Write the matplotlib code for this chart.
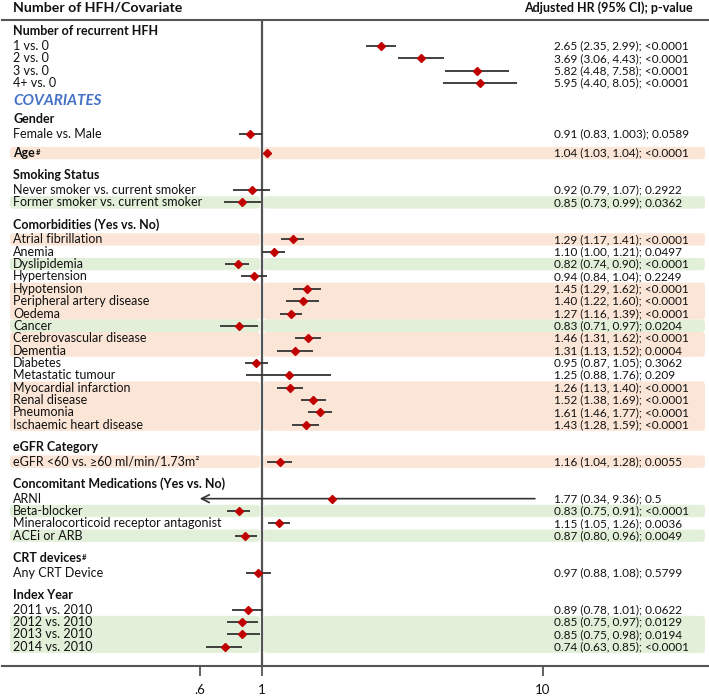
import matplotlib.pyplot as plt
import matplotlib.transforms as mtransforms
from matplotlib.patches import FancyBboxPatch
from matplotlib.ticker import NullLocator

plt.rcParams['font.family'] = ['Lato', 'DejaVu Sans']

# groups of rows (None = the row itself is the bold heading)
group_names = ["Number of recurrent HFH", "Gender", None, "Smoking Status",
               "Comorbidities (Yes vs. No)", "eGFR Category",
               "Concomitant Medications (Yes vs. No)", "CRT devices#", "Index Year"]
group_sizes = [4, 1, 1, 2, 16, 1, 4, 1, 4]

row_labels = ["1 vs. 0", "2 vs. 0", "3 vs. 0", "4+ vs. 0",
              "Female vs. Male",
              "Age#",
              "Never smoker vs. current smoker", "Former smoker vs. current smoker",
              "Atrial fibrillation", "Anemia", "Dyslipidemia", "Hypertension",
              "Hypotension", "Peripheral artery disease", "Oedema", "Cancer",
              "Cerebrovascular disease", "Dementia", "Diabetes", "Metastatic tumour",
              "Myocardial infarction", "Renal disease", "Pneumonia",
              "Ischaemic heart disease",
              "eGFR <60 vs. \u226560 ml/min/1.73m\u00b2",
              "ARNI", "Beta-blocker", "Mineralocorticoid receptor antagonist",
              "ACEi or ARB",
              "Any CRT Device",
              "2011 vs. 2010", "2012 vs. 2010", "2013 vs. 2010", "2014 vs. 2010"]

hr = [2.65, 3.69, 5.82, 5.95,
      0.91,
      1.04,
      0.92, 0.85,
      1.29, 1.10, 0.82, 0.94, 1.45, 1.40, 1.27, 0.83, 1.46, 1.31, 0.95, 1.25,
      1.26, 1.52, 1.61, 1.43,
      1.16,
      1.77, 0.83, 1.15, 0.87,
      0.97,
      0.89, 0.85, 0.85, 0.74]
ci_low = [2.35, 3.06, 4.48, 4.40,
          0.83,
          1.03,
          0.79, 0.73,
          1.17, 1.00, 0.74, 0.84, 1.29, 1.22, 1.16, 0.71, 1.31, 1.13, 0.87, 0.88,
          1.13, 1.38, 1.46, 1.28,
          1.04,
          0.34, 0.75, 1.05, 0.80,
          0.88,
          0.78, 0.75, 0.75, 0.63]
ci_high = [2.99, 4.43, 7.58, 8.05,
           1.003,
           1.04,
           1.07, 0.99,
           1.41, 1.21, 0.90, 1.04, 1.62, 1.60, 1.39, 0.97, 1.62, 1.52, 1.05, 1.76,
           1.40, 1.69, 1.77, 1.59,
           1.28,
           9.36, 0.91, 1.26, 0.96,
           1.08,
           1.01, 0.97, 0.98, 0.85]
p_values = ["<0.0001", "<0.0001", "<0.0001", "<0.0001",
            "0.0589",
            "<0.0001",
            "0.2922", "0.0362",
            "<0.0001", "0.0497", "<0.0001", "0.2249", "<0.0001", "<0.0001",
            "<0.0001", "0.0204", "<0.0001", "0.0004", "0.3062", "0.209",
            "<0.0001", "<0.0001", "<0.0001", "<0.0001",
            "0.0055",
            "0.5", "<0.0001", "0.0036", "0.0049",
            "0.5799",
            "0.0622", "0.0129", "0.0194", "<0.0001"]
# shading: "up" = higher risk, "down" = lower risk, "" = none
shading = ["", "", "", "",
           "",
           "up",
           "", "down",
           "up", "", "down", "", "up", "up", "up", "down", "up", "up", "", "",
           "up", "up", "up", "up",
           "up",
           "", "down", "", "down",
           "",
           "", "down", "down", "down"]

ticks = [0.6, 1, 10]
tick_labels = [".6", "1", "10"]

W, H = 709, 696
SHADE = {"up": "#fbe5d6", "down": "#e2f0d9"}
TXT = "#111111"
FS = 9


def fmt(v):
    s = f"{v:.3f}".rstrip("0")
    return s + "0" * (2 - len(s.split(".")[1]))


fig = plt.figure(figsize=(W / 100, H / 100), dpi=100)
ax = fig.add_axes([2 / W, (H - 666) / H, (W - 2) / W, (666 - 20) / H])
ax.set_xscale("log")
ax.set_xlim(10 ** ((2 - 262) / 281), 10 ** ((W - 262) / 281))
ax.set_ylim(666, 20)

tr = ax.get_yaxis_transform()
pix = mtransforms.Affine2D().scale(1, -1).translate(0, H)


def fx(px):
    return (px - 2) / (W - 2)


def label(y, s, **kw):
    sup = s.endswith("#")
    t = ax.text(fx(13), y, s.rstrip("#"), transform=tr, va="center",
                color=TXT, clip_on=False, **kw)
    if sup:
        ax.annotate("#", xy=(1, 1), xycoords=t, xytext=(0.5, -1.5),
                    textcoords="offset points", ha="left", va="top",
                    fontsize=5.5, fontweight="bold", color=TXT)


# vertical layout
ys = []
y = 31
row = 0
for gi, (name, n) in enumerate(zip(group_names, group_sizes)):
    if gi == 1:
        y += 18
        ax.text(fx(13), y, "COVARIATES", transform=tr, va="center",
                fontsize=11, fontweight="bold", style="italic", color="#4472c4")
        y += 18
    elif gi > 0:
        y += 19 if name is None else 22
    if name is None:
        ys.append(y)
        label(y, row_labels[row], fontsize=FS, fontweight="bold")
        row += 1
        continue
    label(y, name, fontsize=FS, fontweight="bold")
    for k in range(n):
        y += 15 if k == 0 else 12.35
        ys.append(y)
        label(y, row_labels[row], fontsize=FS)
        row += 1

# highlight bands, consecutive rows of the same kind merged
i = 0
while i < len(hr):
    if not shading[i]:
        i += 1
        continue
    j = i
    while j + 1 < len(hr) and shading[j + 1] == shading[i] and ys[j + 1] - ys[j] < 13:
        j += 1
    y0, y1 = ys[i] - 6.2, ys[j] + 6.2
    for x0, x1 in [(10, 260), (263.5, 705)]:
        ax.add_patch(FancyBboxPatch((x0, y0), x1 - x0, y1 - y0,
                                    boxstyle="round,pad=0,rounding_size=3.5",
                                    fc=SHADE[shading[i]], ec="none", transform=pix,
                                    zorder=0, clip_on=False))
    i = j + 1

ax.axvline(1, color="#555555", lw=1.6, zorder=1)

# confidence intervals
for k in range(len(hr)):
    if ci_low[k] < ticks[0]:
        ax.annotate("", xy=(ticks[0], ys[k]), xytext=(ci_high[k], ys[k]),
                    arrowprops=dict(arrowstyle="->", color="#333333", lw=1.2,
                                    mutation_scale=14, shrinkA=0, shrinkB=0),
                    zorder=2)
    else:
        ax.plot([ci_low[k], ci_high[k]], [ys[k], ys[k]], color="#333333",
                lw=1.3, zorder=2, solid_capstyle="butt")
ax.plot(hr, ys, "D", color="#c00000", ms=3.8, mec="#c00000", ls="none", zorder=3)

# right column
for k in range(len(hr)):
    s = f"{fmt(hr[k])} ({fmt(ci_low[k])}, {fmt(ci_high[k])}); {p_values[k]}"
    ax.text(fx(554), ys[k], s, transform=tr, va="center", fontsize=8.5, color=TXT)

ax.text(fx(13), 8, "Number of HFH/Covariate", transform=tr, va="center",
        fontsize=10.2, fontweight="bold", color=TXT, clip_on=False)
ax.text(fx(693), 8, "Adjusted HR (95% CI); p-value", transform=tr, va="center",
        ha="right", fontsize=9, fontweight="bold", color=TXT, clip_on=False)

for side in ["left", "right"]:
    ax.spines[side].set_visible(False)
for side in ["top", "bottom"]:
    ax.spines[side].set_color("#555555")
    ax.spines[side].set_linewidth(1.5)
ax.set_yticks([])
ax.set_xticks(ticks, tick_labels)
ax.xaxis.set_minor_locator(NullLocator())
ax.tick_params(axis="x", length=7, width=1.3, color="#555555", labelsize=9.5,
               labelcolor=TXT, pad=6)

fig.savefig("out.png", dpi=100)
